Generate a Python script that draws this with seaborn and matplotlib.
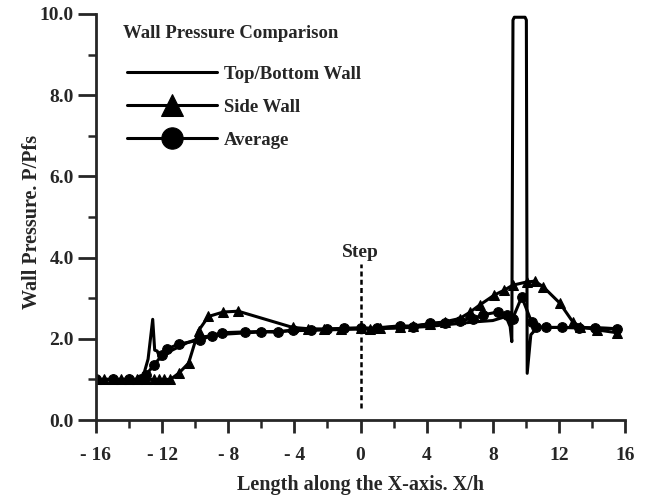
#!/usr/bin/env python3
"""Wall pressure comparison along the X-axis (top/bottom, side wall, average)."""

import numpy as np
import pandas as pd
import matplotlib
matplotlib.use("Agg")
import matplotlib.pyplot as plt
import seaborn as sns

# --- Data ---
top_x = [-16, -13.2, -12.85, -12.57, -12.45, -12.3, -12.1, -11.5, -10.5, -9.5, -8, -6, -4,
         -2, 0, 2, 4, 6, 7, 8, 8.8, 9.05, 9.15, 9.22, 9.3, 9.95, 10.03, 10.08, 10.3, 10.7,
         12, 14, 15.5]
top_p = [1.0, 1.0, 1.5, 2.48, 1.72, 1.7, 1.5, 1.7, 1.9, 2.05, 2.12, 2.17, 2.2,
         2.22, 2.24, 2.26, 2.3, 2.38, 2.42, 2.45, 2.55, 2.3, 1.93, 9.85, 9.92, 9.92, 9.85,
         1.15, 2.1, 2.28, 2.28, 2.27, 2.25]

side_x = [-16, -15.5, -15, -14.5, -14, -13.5, -13, -12.5, -12.2, -11.9, -11.5, -11.0,
          -10.4, -9.8, -9.2, -8.3, -7.4, -4.1, -3.2, -2.2, -1.2, 0, 0.6, 1.2, 2.4, 3.2,
          4.2, 5.1, 6.0, 6.6, 7.2, 8.1, 8.7, 9.2, 10.05, 10.55, 11.05, 12.05, 12.85, 13.3,
          14.3, 15.5]
side_p = [1.0, 1.0, 1.0, 1.0, 1.0, 1.0, 1.0, 1.0, 1.0, 1.0, 1.0, 1.15,
          1.4, 2.2, 2.55, 2.66, 2.68, 2.28, 2.25, 2.24, 2.25, 2.27, 2.25, 2.27, 2.3, 2.32,
          2.37, 2.42, 2.5, 2.65, 2.83, 3.08, 3.2, 3.32, 3.4, 3.42, 3.28, 2.88, 2.41, 2.3,
          2.22, 2.15]

avg_x = [-16, -15, -14, -13.3, -13, -12.5, -12.0, -11.7, -11, -9.7, -9, -8.4, -7, -6,
         -5.0, -4.1, -3, -2, -1, 0, 1, 2.4, 3.2, 4.2, 5.1, 6.0, 6.8, 7.4, 8.3, 8.85, 9.2,
         9.75, 10.35, 10.6, 11.2, 12.2, 13.2, 14.2, 15.5]
avg_p = [1.0, 1.0, 1.0, 1.0, 1.1, 1.35, 1.6, 1.75, 1.87, 1.97, 2.08, 2.15, 2.17, 2.18,
         2.16, 2.22, 2.22, 2.24, 2.26, 2.26, 2.27, 2.32, 2.3, 2.38, 2.4, 2.45, 2.5, 2.59,
         2.66, 2.59, 2.5, 3.03, 2.41, 2.3, 2.28, 2.28, 2.27, 2.27, 2.25]

x_ticks = [-16, -12, -8, -4, 0, 4, 8, 12, 16]
x_tick_labels = ["- 16", "- 12", "- 8", "- 4", "0", "4", "8", "12", "16"]
y_ticks = [0, 2, 4, 6, 8, 10]
y_tick_labels = ["0.0", "2.0", "4.0", "6.0", "8.0", "10.0"]

STEP_X = 0
STEP_RANGE = (0.3, 3.85)

sns.set_style("ticks")
plt.rcParams["font.family"] = ["Liberation Serif", "DejaVu Serif"]
plt.rcParams["font.weight"] = "bold"

fig = plt.figure(figsize=(6.46, 4.98), dpi=100)
ax = fig.add_axes([0.1486, 0.1566, 0.819, 0.8153])

top_df = pd.DataFrame({"x": top_x, "p": top_p})
side_df = pd.DataFrame({"x": side_x, "p": side_p})
avg_df = pd.DataFrame({"x": avg_x, "p": avg_p})

line_kw = dict(color="black", linewidth=2.2, estimator=None, sort=False, ax=ax)
sns.lineplot(data=top_df, x="x", y="p", label="Top/Bottom Wall", **line_kw)
sns.lineplot(data=side_df, x="x", y="p", label="Side Wall", marker="^",
             markersize=7.5, markeredgecolor="black", **line_kw)
sns.lineplot(data=avg_df, x="x", y="p", label="Average", marker="o",
             markersize=7, markeredgecolor="black", **line_kw)

# step location
ax.plot([STEP_X, STEP_X], STEP_RANGE, color="black", lw=1.8, ls=(0, (2, 1.3)))
ax.text(STEP_X, 4.13, "Step", ha="center", va="center", fontsize=14, fontweight="bold")

ax.set_xlim(-16, 16)
ax.set_ylim(0, 10)
ax.set_xticks(x_ticks)
ax.set_xticklabels(x_tick_labels)
ax.set_xticks(np.arange(-16, 17, 2), minor=True)
ax.set_yticks(y_ticks)
ax.set_yticklabels(y_tick_labels)
ax.set_yticks(np.arange(0, 11, 1), minor=True)

ax.tick_params(axis="both", which="major", width=2.0, labelsize=14, direction="out")
ax.tick_params(axis="x", which="major", length=9.5, pad=10)
ax.tick_params(axis="y", which="major", length=13, pad=3)
ax.tick_params(axis="both", which="minor", width=1.8, length=5.5)
for lab in ax.get_xticklabels() + ax.get_yticklabels():
    lab.set_fontweight("bold")

sns.despine(ax=ax)
for s in ("left", "bottom"):
    ax.spines[s].set_linewidth(2.0)

ax.set_xlabel("Length along the X-axis. X/h", fontsize=14.5, fontweight="bold", labelpad=8)
ax.set_ylabel("Wall Pressure. P/Pfs", fontsize=14.5, fontweight="bold")
ax.yaxis.set_label_coords(-0.102, 0.488)

ax.text(0.051, 0.953, "Wall Pressure Comparison", transform=ax.transAxes,
        ha="left", va="center", fontsize=13.5, fontweight="bold")
ax.legend(loc="upper left", bbox_to_anchor=(0.0586, 0.873), frameon=False,
          borderpad=0, borderaxespad=0, handlelength=4.8, handletextpad=0.35,
          labelspacing=0.85, prop={"size": 13.5, "weight": "bold"}, markerscale=2.2)

fig.savefig("out.png", dpi=100)
